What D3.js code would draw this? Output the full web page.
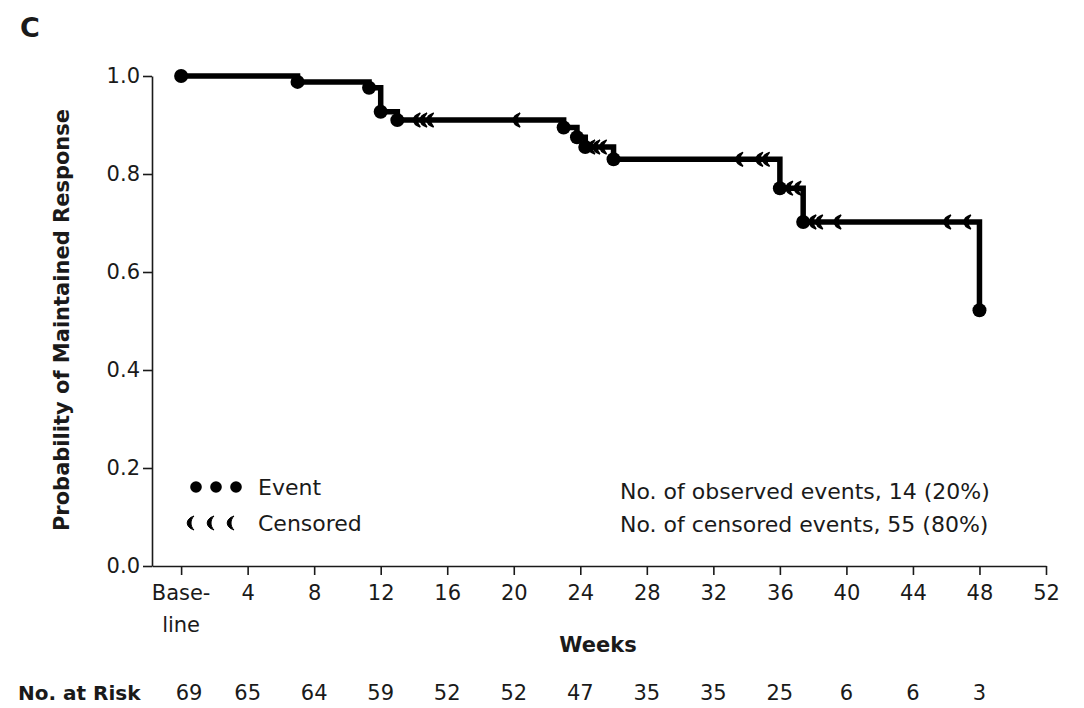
<!DOCTYPE html>
<html>
<head>
<meta charset="utf-8">
<script src="https://cdn.jsdelivr.net/npm/d3@7"></script>
<style>
    body { margin: 0; background: #fff; }
    svg text { font-family: "DejaVu Sans", "Open Sans", sans-serif; fill: #1a1a1a; }
    .axis path, .axis line { stroke: #1a1a1a; stroke-width: 1.6; }
</style>
</head>
<body>
<svg id="chart" width="1084" height="708"></svg>
<script>
"use strict";

// шаги кривой Каплана-Мейера (неделя, вероятность)
const kmWeeks = [0, 7, 11.3, 12, 13, 23, 23.8, 24.3, 26, 36, 37.4, 48];
const kmProb  = [1.0, 0.988, 0.976, 0.927, 0.910, 0.895, 0.875, 0.855, 0.830, 0.771, 0.702, 0.522];

// цензурированные наблюдения (недели)
const censWeeks = [14.2, 14.6, 15.0, 20.2, 24.7, 25.0, 25.4, 33.6, 34.8, 35.2,
                   36.6, 37.1, 38.0, 38.4, 39.5, 46.1, 47.3];

// ось x и число пациентов под риском
const weekTicks = [0, 4, 8, 12, 16, 20, 24, 28, 32, 36, 40, 44, 48, 52];
const atRisk = [69, 65, 64, 59, 52, 52, 47, 35, 35, 25, 6, 6, 3];
const probTicks = [0, 0.2, 0.4, 0.6, 0.8, 1.0];

const statLines = ["No. of observed events, 14 (20%)", "No. of censored events, 55 (80%)"];

let svg = d3.select("#chart");

let x = d3.scaleLinear().domain([-1.75, 52]).range([152, 1046]);
let y = d3.scaleLinear().domain([0, 1]).range([566, 76]);

// вероятность на момент недели w (для меток цензуры)
function probAt(w) {
    let i = d3.bisectRight(kmWeeks, w) - 1;
    return kmProb[Math.max(i, 0)];
}

// метка цензуры - "полумесяц"
const censorPath = "M3,-7 C-6,-4 -6,4 3,7 C-1,3 -1,-3 3,-7 Z";

// оси
svg.append("g")
    .attr("class", "axis")
    .attr("transform", "translate(152,0)")
    .call(d3.axisLeft(y).tickValues(probTicks).tickFormat(d3.format(".1f"))
        .tickSize(9).tickSizeOuter(0).tickPadding(3))
    .call(g => g.selectAll("text").style("font-size", "21px"));

svg.append("g")
    .attr("class", "axis")
    .attr("transform", "translate(0,566)")
    .call(d3.axisBottom(x).tickValues(weekTicks).tickFormat(d => d === 0 ? "" : d)
        .tickSize(9).tickSizeOuter(0).tickPadding(10))
    .call(g => g.selectAll("text").style("font-size", "21px"));

// подпись "Base-line"
let base = svg.append("text")
    .attr("text-anchor", "middle")
    .style("font-size", "21px");
base.append("tspan").attr("x", x(0)).attr("y", 600).text("Base-");
base.append("tspan").attr("x", x(0)).attr("y", 632).text("line");

// ступенчатая линия
let line = d3.line()
    .x((d, i) => x(kmWeeks[i]))
    .y(d => y(d))
    .curve(d3.curveStepAfter);

svg.append("path")
    .datum(kmProb)
    .attr("d", line)
    .attr("fill", "none")
    .attr("stroke", "#000")
    .attr("stroke-width", 5.5);

// события
svg.append("g").selectAll("circle")
    .data(kmProb)
    .join("circle")
    .attr("cx", (d, i) => x(kmWeeks[i]))
    .attr("cy", d => y(d))
    .attr("r", 7)
    .attr("fill", "#000");

// цензура
svg.append("g").selectAll("path")
    .data(censWeeks)
    .join("path")
    .attr("d", censorPath)
    .attr("transform", d => `translate(${x(d)},${y(probAt(d))})`)
    .attr("fill", "#000")
    .attr("stroke", "#000")
    .attr("stroke-width", 1.4);

// легенда
let legend = svg.append("g");
legend.selectAll("circle")
    .data([196, 216, 236])
    .join("circle")
    .attr("cx", d => d).attr("cy", 487).attr("r", 5.8).attr("fill", "#000");
legend.selectAll("path")
    .data([191, 211, 231])
    .join("path")
    .attr("d", censorPath)
    .attr("transform", d => `translate(${d},523)`)
    .attr("fill", "#000")
    .attr("stroke", "#000")
    .attr("stroke-width", 1);
legend.append("text").attr("x", 258).attr("y", 495).style("font-size", "22px").text("Event");
legend.append("text").attr("x", 258).attr("y", 531).style("font-size", "22px").text("Censored");

// статистика
svg.append("g").selectAll("text")
    .data(statLines)
    .join("text")
    .attr("x", 620)
    .attr("y", (d, i) => 499 + i * 33)
    .style("font-size", "22px")
    .text(d => d);

// заголовки осей
svg.append("text")
    .attr("x", 598).attr("y", 652)
    .attr("text-anchor", "middle")
    .style("font-size", "21px").style("font-weight", "bold")
    .text("Weeks");

svg.append("text")
    .attr("transform", "translate(69,320) rotate(-90)")
    .attr("text-anchor", "middle")
    .style("font-size", "21px").style("font-weight", "bold")
    .text("Probability of Maintained Response");

svg.append("text")
    .attr("x", 20).attr("y", 37)
    .style("font-size", "27px").style("font-weight", "bold")
    .text("C");

// число под риском
svg.append("text")
    .attr("x", 18).attr("y", 700)
    .style("font-size", "20px").style("font-weight", "bold")
    .text("No. at Risk");

svg.append("g").selectAll("text")
    .data(atRisk)
    .join("text")
    .attr("x", (d, i) => i === 0 ? x(weekTicks[i]) + 8 : x(weekTicks[i]))
    .attr("y", 700)
    .attr("text-anchor", "middle")
    .style("font-size", "21px")
    .text(d => d);
</script>
</body>
</html>
